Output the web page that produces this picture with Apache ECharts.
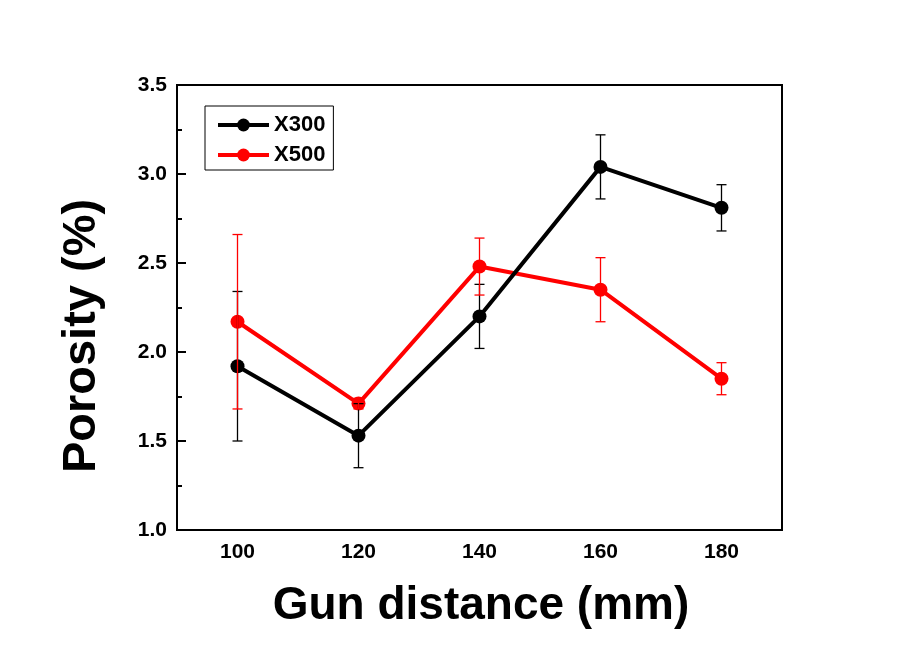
<!DOCTYPE html>
<html>
<head>
<meta charset="utf-8">
<script src="https://cdn.jsdelivr.net/npm/echarts@6/dist/echarts.min.js"></script>
<style>html,body{margin:0;padding:0;background:#fff}#c{width:904px;height:652px}</style>
</head>
<body>
<div id="c"></div>
<script>
const categories = ['100', '120', '140', '160', '180'];
const x300Mean = [1.92, 1.53, 2.20, 3.04, 2.81];
const x300Err  = [0.42, 0.18, 0.18, 0.18, 0.13];
const x500Mean = [2.17, 1.71, 2.48, 2.35, 1.85];
const x500Err  = [0.49, 0.03, 0.16, 0.18, 0.09];
const yTicks = [1.0, 1.5, 2.0, 2.5, 3.0, 3.5];

const FONT = '"Liberation Sans", Arial, sans-serif';

function errData(mean, err) {
  return mean.map((m, i) => [i, m - err[i], m + err[i]]);
}
function errRender(color) {
  return function (params, api) {
    const x = api.value(0);
    const top = api.coord([x, api.value(2)]);
    const bot = api.coord([x, api.value(1)]);
    const w = 5;
    const style = { stroke: color, lineWidth: 1.3 };
    return {
      type: 'group',
      children: [
        { type: 'line', shape: { x1: top[0], y1: top[1], x2: bot[0], y2: bot[1] }, style },
        { type: 'line', shape: { x1: top[0] - w, y1: top[1], x2: top[0] + w, y2: top[1] }, style },
        { type: 'line', shape: { x1: bot[0] - w, y1: bot[1], x2: bot[0] + w, y2: bot[1] }, style }
      ]
    };
  };
}

const chart = echarts.init(document.getElementById('c'));
chart.setOption({
  animation: false,
  backgroundColor: '#fff',
  grid: { left: 177, right: 122, top: 85, bottom: 122, show: true, borderColor: '#000', borderWidth: 2, backgroundColor: 'transparent' },
  legend: {
    left: 205, top: 106,
    orient: 'vertical',
    data: ['X300', 'X500'],
    borderColor: '#000', borderWidth: 1,
    padding: [8, 8, 4, 11],
    itemWidth: 51, itemHeight: 16, itemGap: 8,
    lineStyle: { width: 4 },
    textStyle: { fontFamily: FONT, fontWeight: 'bold', fontSize: 22, color: '#000' }
  },
  xAxis: {
    type: 'category',
    data: categories,
    boundaryGap: true,
    axisLine: { lineStyle: { color: '#000', width: 2 } },
    axisTick: { inside: true, alignWithLabel: true, length: 8, lineStyle: { width: 2, color: '#000' } },
    axisLabel: { fontFamily: FONT, fontWeight: 'bold', fontSize: 21, color: '#000', margin: 12 },
    splitLine: { show: false }
  },
  yAxis: {
    type: 'value',
    min: 1.0, max: 3.5, interval: 0.5,
    axisLine: { show: true, lineStyle: { color: '#000', width: 2 } },
    axisTick: { show: true, inside: true, length: 9, lineStyle: { width: 2, color: '#000' } },
    minorTick: { show: true, splitNumber: 2, length: 5, lineStyle: { width: 2, color: '#000' } },
    axisLabel: { fontFamily: FONT, fontWeight: 'bold', fontSize: 21, color: '#000', margin: 10,
      formatter: v => yTicks.find(t => Math.abs(t - v) < 1e-6).toFixed(1) },
    splitLine: { show: false }
  },
  graphic: [
    { type: 'text', x: 481, y: 606, style: { text: 'Gun distance (mm)', textAlign: 'center', textVerticalAlign: 'middle', font: 'bold 46px ' + FONT, fill: '#000' } },
    { type: 'text', x: 82, y: 336, rotation: Math.PI / 2, style: { text: 'Porosity (%)', textAlign: 'center', textVerticalAlign: 'middle', font: 'bold 47px ' + FONT, fill: '#000' } }
  ],
  series: [
    { name: 'X500', type: 'line', data: x500Mean, z: 2,
      symbol: 'circle', symbolSize: 14, color: '#ff0000',
      lineStyle: { width: 4, color: '#ff0000' }, itemStyle: { color: '#ff0000' } },
    { name: 'X300', type: 'line', data: x300Mean, z: 3,
      symbol: 'circle', symbolSize: 14, color: '#000000',
      lineStyle: { width: 4, color: '#000000' }, itemStyle: { color: '#000000' } },
    { name: 'X300err', type: 'custom', data: errData(x300Mean, x300Err), renderItem: errRender('#000'), z: 4, encode: { x: 0, y: [1, 2] } },
    { name: 'X500err', type: 'custom', data: errData(x500Mean, x500Err), renderItem: errRender('#ff0000'), z: 5, encode: { x: 0, y: [1, 2] } }
  ]
});
</script>
</body>
</html>
